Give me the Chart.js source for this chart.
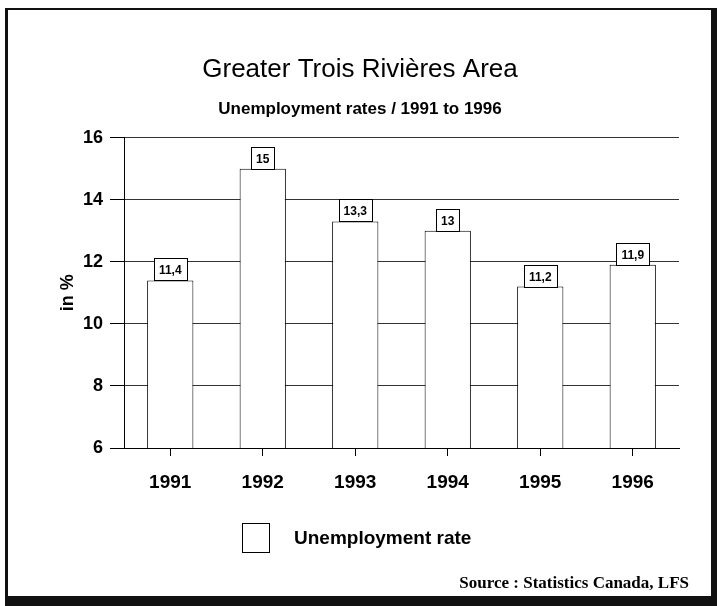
<!DOCTYPE html>
<html>
<head>
<meta charset="utf-8">
<script src="https://cdn.jsdelivr.net/npm/chart.js@4.4.1/dist/chart.umd.min.js"></script>
<style>
  html, body { margin: 0; padding: 0; background: #fff; }
  #wrap { position: relative; width: 717px; height: 606px; overflow: hidden; background: #fff; }
  #frame { position: absolute; left: 5px; top: 8px; width: 712px; height: 598px; box-sizing: border-box;
           border-style: solid; border-color: #111; border-width: 2px 6px 10px 3px; }
  #c { position: absolute; left: 0; top: 0; }
</style>
</head>
<body>
<div id="wrap">
  <div id="frame"></div>
  <canvas id="c" width="717" height="606"></canvas>
</div>
<script>
// ---- data ----
const categories = ['1991', '1992', '1993', '1994', '1995', '1996'];
const rates = [11.4, 15, 13.3, 13, 11.2, 11.9];
const seriesLabel = 'Unemployment rate';
const yMin = 6, yMax = 16, yStep = 2;
const titleText = 'Greater Trois Rivières Area';
const subtitleText = 'Unemployment rates / 1991 to 1996';
const yTitle = 'in %';
const sourceText = 'Source : Statistics Canada, LFS';

const SANS = '"Liberation Sans", Arial, Helvetica, sans-serif';
const SERIF = '"Liberation Serif", "Times New Roman", serif';
const fmt = v => String(v).replace('.', ',');

const valueBoxes = {
  id: 'valueBoxes',
  afterDatasetsDraw(chart) {
    const ctx = chart.ctx;
    const meta = chart.getDatasetMeta(0);
    ctx.save();
    ctx.font = 'bold 12px ' + SANS;
    ctx.textAlign = 'center';
    ctx.textBaseline = 'middle';
    meta.data.forEach((bar, i) => {
      const txt = fmt(chart.data.datasets[0].data[i]);
      const w = Math.round(ctx.measureText(txt).width) + 10;
      const h = 22;
      const x = Math.round(bar.x - w / 2) + 0.5;
      const y = Math.round(bar.y - h) + 0.5;
      ctx.fillStyle = '#fff';
      ctx.fillRect(x, y, w, h);
      ctx.strokeStyle = '#000';
      ctx.lineWidth = 1;
      ctx.strokeRect(x, y, w, h);
      ctx.fillStyle = '#000';
      ctx.fillText(txt, bar.x, y + h / 2 + 1);
    });
    ctx.restore();
  }
};

const extras = {
  id: 'extras',
  afterDraw(chart) {
    const ctx = chart.ctx;
    ctx.save();
    // legend
    ctx.fillStyle = '#fff';
    ctx.fillRect(242.5, 523.5, 27, 29);
    ctx.strokeStyle = '#000';
    ctx.lineWidth = 1;
    ctx.strokeRect(242.5, 523.5, 27, 29);
    ctx.fillStyle = '#000';
    ctx.font = 'bold 19px ' + SANS;
    ctx.textAlign = 'left';
    ctx.textBaseline = 'middle';
    ctx.fillText(chart.data.datasets[0].label, 294, 539);
    // source
    ctx.font = 'bold 17px ' + SERIF;
    ctx.textAlign = 'right';
    ctx.fillText(sourceText, 689, 584);
    ctx.restore();
  }
};

Chart.defaults.font.family = SANS;
Chart.defaults.color = '#000';

new Chart(document.getElementById('c'), {
  type: 'bar',
  data: {
    labels: categories,
    datasets: [{
      label: seriesLabel,
      data: rates,
      backgroundColor: '#fff',
      borderColor: '#000',
      borderWidth: 1,
      categoryPercentage: 1.0,
      barPercentage: 0.5
    }]
  },
  options: {
    responsive: false,
    animation: false,
    layout: { padding: { left: 41, right: 38, top: 0, bottom: 98 } },
    plugins: {
      legend: { display: false },
      tooltip: { enabled: false },
      title: {
        display: true, text: titleText, color: '#000',
        font: { size: 26, weight: 'normal' },
        padding: { top: 54, bottom: 14 }
      },
      subtitle: {
        display: true, text: subtitleText, color: '#000',
        font: { size: 17, weight: 'bold' },
        padding: { top: 0, bottom: 18 }
      }
    },
    scales: {
      x: {
        offset: true,
        grid: { display: true, drawOnChartArea: false, drawTicks: true, tickLength: 8, offset: false, color: '#000' },
        border: { display: true, color: '#000', width: 1 },
        ticks: { color: '#000', font: { size: 19, weight: 'bold' }, padding: 15 },
        afterFit(s) { s.height = 60; }
      },
      y: {
        min: yMin, max: yMax,
        ticks: { stepSize: yStep, color: '#000', font: { size: 18, weight: 'bold' }, padding: 7 },
        grid: { color: '#333', tickLength: 14, tickColor: '#000', lineWidth: 1 },
        border: { display: true, color: '#000', width: 1 },
        title: { display: true, text: yTitle, color: '#000', font: { size: 18, weight: 'bold' }, padding: { top: 16, bottom: 0 } },
        afterFit(s) { s.width = 83; }
      }
    }
  },
  plugins: [valueBoxes, extras]
});
</script>
</body>
</html>
